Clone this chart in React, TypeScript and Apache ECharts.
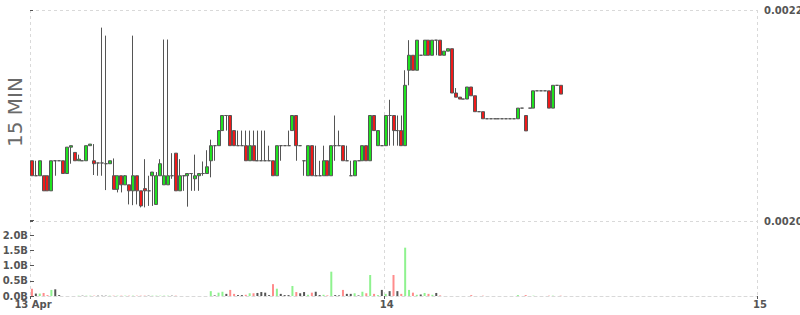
import React, { useEffect, useRef } from 'react';
import * as echarts from 'echarts';

// x positions (in 15-minute slots from 13 Apr 00:00) of the day labels
const dayTicks = [0, 91, 187];
const dayLabels = ['13 Apr', '14', '15'];

// price axis
const priceMin = 0.002;
const priceMax = 0.0022;
const priceStep = 0.0002;

// volume axis (billions)
const volMax = 2.5;
const volStep = 0.5;

// 15-minute candles: [open, close, low, high]
const ohlc: number[][] = [
  [0.0020571, 0.0020429, 0.0020429, 0.0020571],
  [0.0020429, 0.0020429, 0.0020429, 0.0020571],
  [0.0020429, 0.0020571, 0.0020429, 0.0020571],
  [0.0020429, 0.0020286, 0.0020286, 0.0020429],
  [0.0020429, 0.0020286, 0.0020286, 0.0020429],
  [0.0020286, 0.0020571, 0.0020286, 0.0020571],
  [0.0020571, 0.0020571, 0.0020429, 0.0020571],
  [0.0020571, 0.0020571, 0.0020571, 0.0020571],
  [0.0020571, 0.002045, 0.002045, 0.0020571],
  [0.002045, 0.00207, 0.002045, 0.00207],
  [0.00207, 0.0020714, 0.0020543, 0.0020714],
  [0.002065, 0.0020571, 0.0020571, 0.002065],
  [0.0020571, 0.0020586, 0.0020571, 0.0020629],
  [0.0020571, 0.0020571, 0.0020571, 0.0020571],
  [0.0020571, 0.0020714, 0.0020571, 0.0020714],
  [0.0020714, 0.0020729, 0.0020714, 0.0020729],
  [0.0020571, 0.0020543, 0.0020436, 0.0020729],
  [0.002055, 0.002055, 0.0020429, 0.002055],
  [0.002055, 0.002055, 0.0020429, 0.0021833],
  [0.0020543, 0.0020543, 0.0020293, 0.0021757],
  [0.0020543, 0.0020571, 0.0020543, 0.0020571],
  [0.0020429, 0.00203, 0.00203, 0.0020593],
  [0.00203, 0.0020429, 0.0020271, 0.0020429],
  [0.0020429, 0.0020343, 0.0020271, 0.0020429],
  [0.0020343, 0.0020429, 0.0020343, 0.0020436],
  [0.0020343, 0.0020286, 0.0020157, 0.0020343],
  [0.0020286, 0.0020429, 0.002015, 0.0021757],
  [0.0020429, 0.0020286, 0.0020157, 0.0020429],
  [0.0020286, 0.0020143, 0.0020129, 0.0020286],
  [0.0020307, 0.0020286, 0.0020129, 0.0020586],
  [0.0020286, 0.0020286, 0.0020143, 0.0020429],
  [0.0020429, 0.0020464, 0.0020143, 0.0020464],
  [0.0020157, 0.0020429, 0.0020157, 0.0020464],
  [0.0020429, 0.0020543, 0.0020429, 0.0020586],
  [0.0020343, 0.0020429, 0.0020343, 0.002172],
  [0.0020343, 0.0020429, 0.0020343, 0.002172],
  [0.0020429, 0.0020429, 0.00204, 0.0020643],
  [0.0020643, 0.0020286, 0.0020286, 0.0020643],
  [0.0020286, 0.0020429, 0.0020286, 0.0020586],
  [0.0020429, 0.0020429, 0.0020286, 0.0020429],
  [0.0020429, 0.002045, 0.0020136, 0.002045],
  [0.002045, 0.002045, 0.0020286, 0.002045],
  [0.00204, 0.0020429, 0.0020286, 0.0020629],
  [0.0020429, 0.002045, 0.0020286, 0.002045],
  [0.002045, 0.002045, 0.0020429, 0.0020564],
  [0.002045, 0.0020514, 0.002045, 0.0020671],
  [0.0020571, 0.0020714, 0.0020414, 0.0020771],
  [0.0020714, 0.0020714, 0.0020571, 0.0020714],
  [0.0020714, 0.0020857, 0.0020714, 0.0020857],
  [0.0020857, 0.0021, 0.0020857, 0.0021],
  [0.0021, 0.0021, 0.0020857, 0.0021],
  [0.0021, 0.0020714, 0.0020714, 0.0021],
  [0.0020857, 0.0020714, 0.0020714, 0.0020857],
  [0.0020714, 0.0020714, 0.0020714, 0.0020857],
  [0.0020714, 0.0020714, 0.0020714, 0.0020857],
  [0.0020714, 0.0020571, 0.0020571, 0.0020857],
  [0.0020571, 0.0020714, 0.0020571, 0.0020857],
  [0.0020714, 0.0020571, 0.0020571, 0.0020857],
  [0.0020571, 0.0020571, 0.0020571, 0.0020857],
  [0.0020571, 0.0020571, 0.0020571, 0.0020857],
  [0.0020571, 0.0020571, 0.0020571, 0.0020857],
  [0.0020571, 0.0020571, 0.0020571, 0.0020714],
  [0.0020571, 0.0020429, 0.0020429, 0.0020571],
  [0.0020429, 0.0020714, 0.0020429, 0.0020714],
  [0.0020714, 0.0020714, 0.0020571, 0.0020714],
  [0.0020714, 0.0020714, 0.0020714, 0.0020714],
  [0.0020714, 0.0020714, 0.0020714, 0.0020857],
  [0.0020857, 0.0021, 0.0020857, 0.0021],
  [0.0021, 0.0020714, 0.0020571, 0.0021],
  [0.0020714, 0.0020714, 0.0020714, 0.0020714],
  [0.0020571, 0.0020571, 0.0020429, 0.0020571],
  [0.0020429, 0.0020714, 0.0020429, 0.0020714],
  [0.0020714, 0.0020429, 0.0020429, 0.0020714],
  [0.0020429, 0.0020429, 0.0020429, 0.0020714],
  [0.0020429, 0.0020429, 0.0020429, 0.0020571],
  [0.0020429, 0.0020571, 0.0020429, 0.0020714],
  [0.0020571, 0.0020429, 0.0020429, 0.0020571],
  [0.0020429, 0.0020714, 0.0020429, 0.0020714],
  [0.0020714, 0.0020714, 0.0020571, 0.0021],
  [0.0020714, 0.0020714, 0.0020714, 0.0020857],
  [0.0020714, 0.0020571, 0.0020571, 0.0020714],
  [0.0020571, 0.0020571, 0.0020571, 0.0020714],
  [0.0020429, 0.0020429, 0.0020429, 0.0020571],
  [0.0020429, 0.0020571, 0.0020429, 0.0020571],
  [0.0020571, 0.0020571, 0.0020571, 0.0020571],
  [0.0020571, 0.0020714, 0.0020571, 0.0020714],
  [0.0020714, 0.0020571, 0.0020571, 0.0020714],
  [0.0020571, 0.0021, 0.0020571, 0.0021],
  [0.0021, 0.0020857, 0.0020857, 0.0021],
  [0.0020714, 0.0020857, 0.0020714, 0.0020857],
  [0.0020714, 0.0020714, 0.0020714, 0.0020714],
  // 14 Apr
  [0.0020714, 0.0021, 0.0020714, 0.0021],
  [0.0021, 0.0021, 0.0020714, 0.0021149],
  [0.0021, 0.0020857, 0.0020714, 0.0021],
  [0.0020857, 0.0020857, 0.0020714, 0.0021],
  [0.0020857, 0.0020714, 0.0020714, 0.0021],
  [0.0020714, 0.0021286, 0.0020714, 0.0021429],
  [0.0021429, 0.0021571, 0.0021286, 0.0021714],
  [0.0021571, 0.0021429, 0.0021429, 0.0021571],
  [0.0021429, 0.0021714, 0.0021429, 0.0021714],
  [0.0021571, 0.0021571, 0.0021571, 0.0021571],
  [0.0021571, 0.0021714, 0.0021571, 0.0021714],
  [0.0021714, 0.0021571, 0.0021571, 0.0021714],
  [0.0021571, 0.0021714, 0.0021571, 0.0021714],
  [0.0021714, 0.0021714, 0.0021571, 0.0021714],
  [0.0021714, 0.0021571, 0.0021571, 0.0021714],
  [0.0021571, 0.002161, 0.0021571, 0.002161],
  [0.002161, 0.0021633, 0.002161, 0.0021633],
  [0.0021633, 0.0021213, 0.0021213, 0.0021633],
  [0.0021213, 0.0021174, 0.0021174, 0.002126],
  [0.0021174, 0.0021156, 0.0021156, 0.0021174],
  [0.0021156, 0.0021156, 0.0021156, 0.0021156],
  [0.0021156, 0.002127, 0.0021156, 0.002127],
  [0.002127, 0.0021187, 0.0021187, 0.002127],
  [0.0021187, 0.0021036, 0.0021036, 0.0021187],
  [0.0021036, 0.0021036, 0.0021036, 0.0021036],
  [0.0021036, 0.0020969, 0.0020969, 0.0021036],
  [0.0020969, 0.0020969, 0.0020969, 0.0020969],
  [0.0020969, 0.0020969, 0.0020969, 0.0020969],
  [0.0020969, 0.0020969, 0.0020969, 0.0020969],
  [0.0020969, 0.0020969, 0.0020969, 0.0020969],
  [0.0020969, 0.0020969, 0.0020969, 0.0020969],
  [0.0020969, 0.0020969, 0.0020969, 0.0020969],
  [0.0020969, 0.0020969, 0.0020969, 0.0020969],
  [0.0020969, 0.0020969, 0.0020969, 0.0020969],
  [0.0020969, 0.002107, 0.0020969, 0.002107],
  [0.002107, 0.002107, 0.002107, 0.002107],
  [0.0021, 0.0020854, 0.0020854, 0.0021],
  [0.002107, 0.002107, 0.002107, 0.002107],
  [0.002107, 0.0021234, 0.002107, 0.0021234],
  [0.0021234, 0.0021234, 0.0021234, 0.0021234],
  [0.0021234, 0.0021234, 0.0021234, 0.0021234],
  [0.0021234, 0.0021234, 0.0021234, 0.0021234],
  [0.0021234, 0.002107, 0.002107, 0.0021234],
  [0.002107, 0.0021286, 0.002107, 0.0021286],
  [0.0021286, 0.0021286, 0.0021286, 0.0021286],
  [0.0021286, 0.0021203, 0.0021203, 0.0021286],
];

// volume per candle, in billions
const volumes: number[] = [
  0.24, 0.08, 0.08, 0.1, 0.03, 0.2, 0.22, 0.03, 0, 0, 0, 0,
  0.01, 0.01, 0.01, 0.01, 0.01, 0.01, 0.01, 0.01, 0.01, 0.01, 0.01, 0.01, 0.01,
  0.01, 0.01, 0.01, 0.01, 0.01, 0.01, 0.01, 0.01, 0.01, 0.01, 0.01, 0.01, 0.01,
  0, 0, 0, 0, 0, 0, 0, 0,
  0.16, 0.02, 0.11, 0.14, 0.07, 0.2, 0.07, 0.03, 0.03, 0.04, 0.09, 0.09, 0.1, 0.13,
  0.11, 0.03, 0.39, 0.24, 0.07, 0.03, 0.03, 0.33, 0.13, 0.09, 0.13, 0.04, 0.11, 0.14,
  0.03, 0.04, 0.02, 0.8, 0.03, 0.02, 0.2, 0.07, 0.07, 0.09, 0.02, 0.14, 0.09, 0.69,
  0.07, 0.03, 0.2, 0.07, 0.16, 0.69, 0.16, 0.07, 1.59, 0.2, 0.11, 0.04, 0.05, 0.1,
  0.07, 0.04, 0.1, 0.02,
  0, 0, 0, 0, 0, 0, 0,
  0.03, 0, 0, 0.01,
  0, 0, 0, 0, 0, 0, 0, 0,
  0.03, 0, 0.03, 0, 0.01, 0, 0, 0, 0.01, 0.01, 0, 0.01,
];

const FONT = "'DejaVu Sans', Verdana, sans-serif";
const GRID_LINE = { color: '#d9d9d9', type: [3, 3] as number[], width: 1 };

export default function App() {
  const ref = useRef<HTMLDivElement>(null);

  useEffect(() => {
    if (!ref.current) return;
    const chart = echarts.init(ref.current, undefined, { renderer: 'svg' });

    const candleData = ohlc.map((r, i) => [i + 0.5, r[0], r[1], r[2], r[3]]);
    const volData = volumes.map((v, i) => {
      const [o, c] = ohlc[i];
      const color = c > o ? '#8ff28f' : c < o ? '#ff8c8c' : '#555555';
      return { value: [i + 0.5, v], itemStyle: { color } };
    });

    const smallLabel = {
      color: '#555',
      fontWeight: 'bold' as const,
      fontSize: 10,
      fontFamily: FONT,
    };

    chart.setOption({
      animation: false,
      grid: [
        {
          left: 30,
          right: 43,
          top: 10,
          bottom: 94,
          containLabel: false,
          outerBoundsMode: 'none',
        },
        {
          left: 30,
          right: 43,
          top: 220,
          bottom: 19,
          containLabel: false,
          outerBoundsMode: 'none',
        },
      ],
      xAxis: [
        {
          type: 'value',
          gridIndex: 0,
          min: 0,
          max: 187,
          axisLine: { show: false },
          axisTick: { show: false, customValues: dayTicks },
          axisLabel: { show: false, customValues: dayTicks },
          splitLine: { show: true, lineStyle: GRID_LINE },
        },
        {
          type: 'value',
          gridIndex: 1,
          min: 0,
          max: 187,
          axisLine: { show: true, lineStyle: GRID_LINE },
          axisTick: {
            show: true,
            customValues: dayTicks,
            length: 3,
            lineStyle: { color: '#555' },
          },
          axisLabel: {
            ...smallLabel,
            customValues: dayTicks,
            margin: 3,
            padding: [0, 0, 0, 6],
            formatter: (v: number) => {
              const k = dayTicks.indexOf(Math.round(v));
              return k >= 0 ? dayLabels[k] : '';
            },
          },
          splitLine: { show: true, lineStyle: GRID_LINE },
        },
      ],
      yAxis: [
        {
          type: 'value',
          gridIndex: 0,
          position: 'right',
          min: priceMin,
          max: priceMax,
          interval: priceStep,
          axisLine: { show: false },
          axisTick: { show: true, length: 3, lineStyle: { color: '#555' } },
          axisLabel: {
            ...smallLabel,
            margin: 7,
            overflow: 'none',
            formatter: (v: number) => v.toFixed(4),
          },
          splitLine: { show: true, lineStyle: GRID_LINE },
        },
        {
          type: 'value',
          gridIndex: 1,
          position: 'left',
          min: 0,
          max: volMax,
          interval: volStep,
          axisLine: { show: false },
          axisTick: {
            show: true,
            inside: true,
            length: 4,
            lineStyle: { color: '#555' },
          },
          axisLabel: {
            ...smallLabel,
            margin: 2,
            formatter: (v: number) => (v > 2.01 ? '' : v.toFixed(1) + 'B'),
          },
          splitLine: { show: false },
        },
      ],
      graphic: [
        {
          type: 'text',
          x: 15,
          y: 112,
          rotation: Math.PI / 2,
          style: {
            text: '15 MIN',
            fontSize: 20,
            fontFamily: "'DejaVu Sans', sans-serif",
            fill: '#6a6a6a',
            align: 'center',
            verticalAlign: 'middle',
          },
        },
      ],
      series: [
        {
          type: 'candlestick',
          xAxisIndex: 0,
          yAxisIndex: 0,
          data: candleData,
          barWidth: 3.5,
          itemStyle: {
            color: '#1fe21f',
            color0: '#ee1a1a',
            borderColor: '#555',
            borderColor0: '#555',
            borderColorDoji: '#555',
            borderWidth: 1,
          },
        },
        {
          type: 'bar',
          xAxisIndex: 1,
          yAxisIndex: 1,
          data: volData,
          barWidth: 2,
        },
      ],
    });

    return () => chart.dispose();
  }, []);

  return (
    <div
      ref={ref}
      style={{ position: 'absolute', left: 0, top: 0, width: 800, height: 315 }}
    />
  );
}
